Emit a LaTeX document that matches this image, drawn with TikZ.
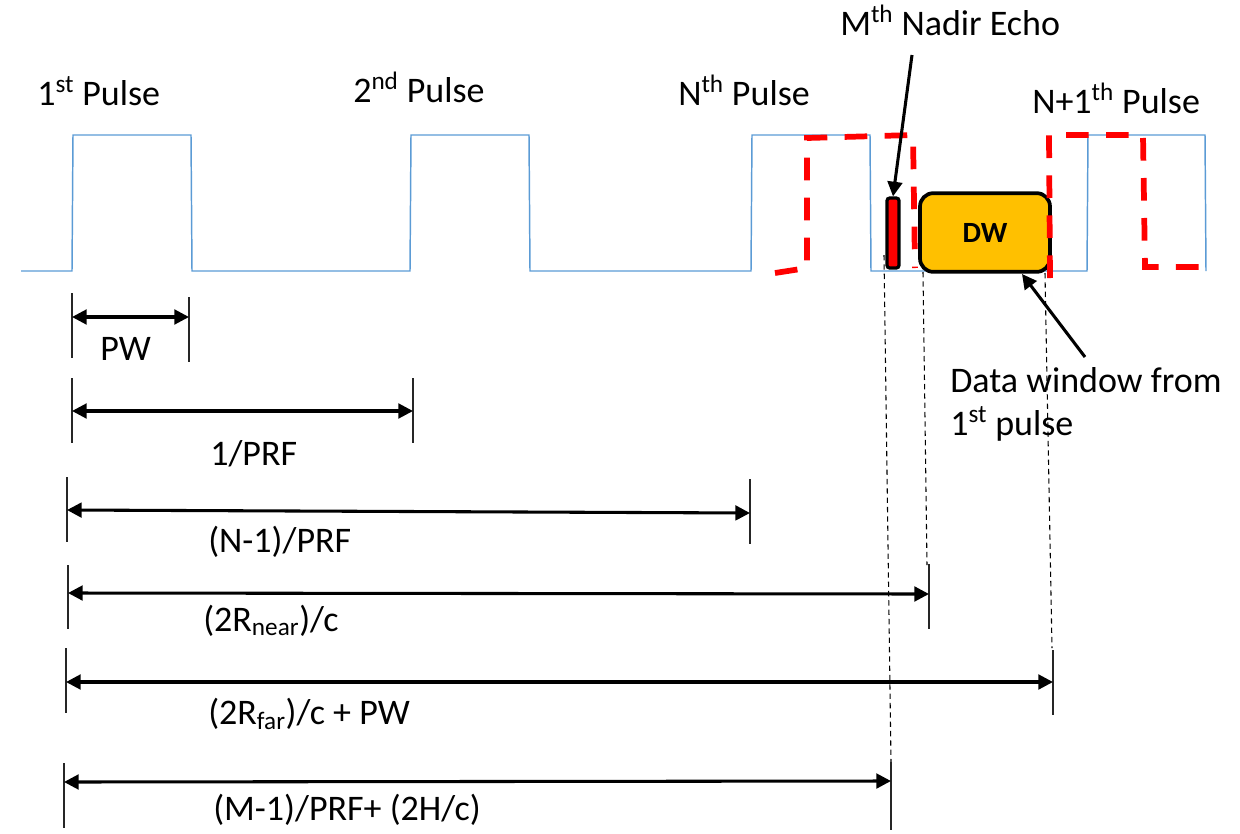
\documentclass[tikz,border=0pt]{standalone}
\usepackage{fontspec}
\setmainfont{Carlito}
\usetikzlibrary{arrows.meta}
\definecolor{pblue}{HTML}{5B9BD5}
\definecolor{dwor}{HTML}{FFC000}
\begin{document}
\begin{tikzpicture}[x=0.75pt,y=-0.75pt,
  lbl/.style={anchor=base west, inner sep=0pt, font=\fontsize{27}{33}\selectfont},
  dim/.style={line width=2.3pt, {Triangle[length=11pt,width=11pt]}-{Triangle[length=11pt,width=11pt]}},
  ptr/.style={line width=2.3pt, -{Triangle[length=11pt,width=11pt]}},
  tickline/.style={line width=1pt, black!85},
  guide/.style={line width=0.8pt, dash pattern=on 4pt off 3pt},
  echoline/.style={red, line width=4.3pt, dash pattern=on 17pt off 13pt},
  pulseline/.style={pblue, line width=1.1pt}]
\useasboundingbox (0,0) rectangle (1240,833);

% pulse train
\draw[pulseline] (21,271) -- (72,271) -- (73,135) -- (191,135) -- (192,271) -- (410,271) -- (411,135) -- (529,135) -- (530,271) -- (751,271) -- (752,135) -- (870,135) -- (871,271) -- (1087,271) -- (1088,135) -- (1205,135) -- (1206,271);

% data window and nadir echo
\node[draw, line width=2.8pt, rounded corners=10pt, fill=dwor, minimum width=97.5pt, minimum height=59pt, inner sep=0pt, font=\fontsize{22}{26}\selectfont\bfseries] (dw) at (985,232.5) {DW};
\node[draw, line width=2.4pt, rounded corners=2pt, fill=red, minimum width=9pt, minimum height=52.5pt, inner sep=0pt] (nadir) at (893,233) {};

% echoes (red dashed)
\draw[echoline] (775,273) -- (807,268) -- (807,138) -- (913,135) -- (915,268);
\draw[echoline] (1050,278) -- (1049,135) -- (1143,135) -- (1145,267) -- (1205,267);

% pulse labels
\node[lbl] (p1) at (37,105) {1\textsuperscript{st} Pulse};
\node[lbl] (p2) at (353,102) {2\textsuperscript{nd} Pulse};
\node[lbl] (pn) at (678,105) {N\textsuperscript{th} Pulse};
\node[lbl] (pn1) at (1032,113) {N+1\textsuperscript{th} Pulse};
\node[lbl] (nlab) at (840,35) {M\textsuperscript{th} Nadir Echo};
\node[lbl] (dwl1) at (950,392) {Data window from};
\node[lbl] (dwl2) at (950,435) {1\textsuperscript{st} pulse};

% pointers
\coordinate (nstart) at (912,55);
\draw[ptr] (nstart) -- (nadir.north);
\coordinate (dstart) at (1085,357);
\coordinate (dtip) at (1022,274);
\draw[ptr] (dstart) -- (dtip);

% guide lines
\coordinate (g1a) at (884,255); \coordinate (g1b) at (891,762);
\coordinate (g2a) at (923,272); \coordinate (g2b) at (927,565);
\coordinate (g3a) at (1045,273); \coordinate (g3b) at (1052,648);
\draw[guide] (g1a) -- (g1b);
\draw[guide] (g2a) -- (g2b);
\draw[guide] (g3a) -- (g3b);

% PW
\coordinate (a1t) at (72,293); \coordinate (a1b) at (72,358);
\coordinate (b1t) at (189,297); \coordinate (b1b) at (189,362);
\draw[tickline] (a1t) -- (a1b); \draw[tickline] (b1t) -- (b1b);
\coordinate (a1) at (72,317); \coordinate (b1) at (189,317);
\draw[dim] (a1) -- (b1);
\node[lbl] (lpw) at (100,360) {PW};

% 1/PRF
\coordinate (a2t) at (72,378); \coordinate (a2b) at (72,443);
\coordinate (b2t) at (413,378); \coordinate (b2b) at (413,443);
\draw[tickline] (a2t) -- (a2b); \draw[tickline] (b2t) -- (b2b);
\coordinate (a2) at (72,411); \coordinate (b2) at (413,411);
\draw[dim] (a2) -- (b2);
\node[lbl] (lprf) at (210,465) {1/PRF};

% (N-1)/PRF
\coordinate (a3t) at (67,477); \coordinate (a3b) at (67,542);
\coordinate (b3t) at (750,479); \coordinate (b3b) at (750,544);
\draw[tickline] (a3t) -- (a3b); \draw[tickline] (b3t) -- (b3b);
\coordinate (a3) at (67,510); \coordinate (b3) at (750,513);
\draw[dim] (a3) -- (b3);
\node[lbl] (lnprf) at (208,552) {(N-1)/PRF};

% (2Rnear)/c
\coordinate (a4t) at (68,565); \coordinate (a4b) at (68,629);
\coordinate (b4t) at (929,564); \coordinate (b4b) at (929,629);
\draw[tickline] (a4t) -- (a4b); \draw[tickline] (b4t) -- (b4b);
\coordinate (a4) at (68,593); \coordinate (b4) at (929,594);
\draw[dim] (a4) -- (b4);
\node[lbl] (lnear) at (203,631) {(2R\textsubscript{near})/c};

% (2Rfar)/c + PW
\coordinate (a5t) at (66,648); \coordinate (a5b) at (66,713);
\coordinate (b5t) at (1053,650); \coordinate (b5b) at (1053,715);
\draw[tickline] (a5t) -- (a5b); \draw[tickline] (b5t) -- (b5b);
\coordinate (a5) at (66,682); \coordinate (b5) at (1053,682);
\draw[dim] (a5) -- (b5);
\node[lbl] (lfar) at (208,724) {(2R\textsubscript{far})/c + PW};

% (M-1)/PRF+ (2H/c)
\coordinate (a6t) at (64,763); \coordinate (a6b) at (64,828);
\coordinate (b6t) at (891,762); \coordinate (b6b) at (891,830);
\draw[tickline] (a6t) -- (a6b); \draw[tickline] (b6t) -- (b6b);
\coordinate (a6) at (64,782); \coordinate (b6) at (891,781);
\draw[dim] (a6) -- (b6);
\node[lbl] (lm) at (213,820) {(M-1)/PRF+ (2H/c)};
\end{tikzpicture}
\end{document}
